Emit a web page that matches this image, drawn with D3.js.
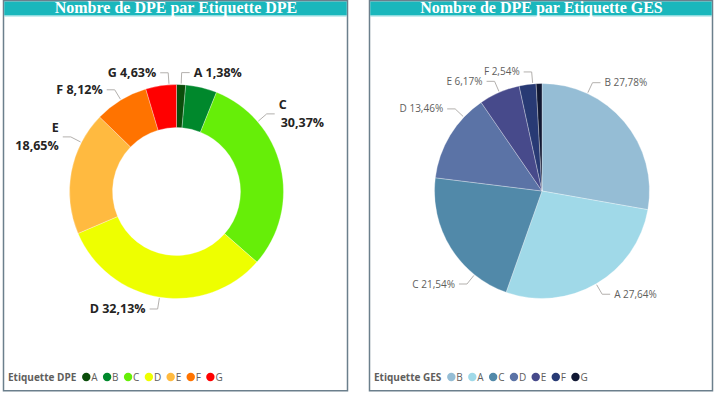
<!DOCTYPE html>
<html lang="fr">
<head>
<meta charset="utf-8">
<title>Nombre de DPE par Etiquette</title>
<script src="https://cdn.jsdelivr.net/npm/d3@7"></script>
<style>
    body { margin: 0; background: #fff; }
    svg { display: block; }
    .title { font-family: "Liberation Serif", "DejaVu Serif", serif; font-weight: bold; fill: #fff; }
    .lbl { font-family: "Open Sans", "Noto Sans", sans-serif; }
    .legend text { font-family: "Open Sans", "Noto Sans", sans-serif; font-size: 10px; fill: #605e5c; }
    .leader { fill: none; stroke: #b3b0ad; stroke-width: 1; }
</style>
</head>
<body>
<div id="chart"></div>
<script>

// DPE donut
const dpeCategories = ["A", "B", "C", "D", "E", "F", "G"];
const dpeValues = [1.38, 4.72, 30.37, 32.13, 18.65, 8.12, 4.63];
const dpeColours = ["#0b4d0b", "#00882c", "#66ee08", "#eeff00", "#ffba40", "#ff7300", "#ff0000"];

// GES pie
const gesCategories = ["B", "A", "C", "D", "E", "F", "G"];
const gesValues = [27.78, 27.64, 21.54, 13.46, 6.17, 2.54, 0.87];
const gesColours = ["#95bdd5", "#a0d9e8", "#5189a9", "#5b73a6", "#474a8b", "#283a74", "#111833"];

const WIDTH = 715, HEIGHT = 394;

const svg = d3.select("#chart").append("svg")
    .attr("width", WIDTH)
    .attr("height", HEIGHT);

const fmt = v => d3.format(".2f")(v).replace(".", ",") + "%";

function drawPanel(opt) {
    let g = svg.append("g");

    // frame + title bar
    g.append("rect")
        .attr("x", opt.x0 + 0.5).attr("y", 0.75)
        .attr("width", opt.x1 - opt.x0).attr("height", 390)
        .attr("fill", "#fff").attr("stroke", "#6b7f8c").attr("stroke-width", 1.5);
    g.append("rect")
        .attr("x", opt.x0 + 1.25).attr("y", 1.5)
        .attr("width", opt.x1 - opt.x0 - 1.5).attr("height", 14)
        .attr("fill", "#1ab7bc");
    g.append("rect")
        .attr("x", opt.x0 + 1.25).attr("y", 15.5)
        .attr("width", opt.x1 - opt.x0 - 1.5).attr("height", 1)
        .attr("fill", "#8fdcdf");
    g.append("text")
        .attr("class", "title")
        .attr("x", (opt.x0 + opt.x1) / 2 + 1).attr("y", 13)
        .attr("text-anchor", "middle")
        .style("font-size", "16px")
        .text(opt.title);

    let data = opt.categories.map((c, i) => ({cat: c, value: opt.values[i], colour: opt.colours[i]}));

    let pie = d3.pie().sort(null).value(d => d.value);
    let arcs = pie(data);
    let arc = d3.arc().innerRadius(opt.inner).outerRadius(opt.r);

    let plot = g.append("g").attr("transform", "translate(" + opt.cx + "," + opt.cy + ")");

    plot.selectAll("path.slice")
        .data(arcs)
        .enter().append("path")
        .attr("class", "slice")
        .attr("d", arc)
        .attr("fill", d => d.data.colour)
        .attr("stroke", "#fff")
        .attr("stroke-width", 0.5)
        .attr("stroke-opacity", 0.6);

    // labels with leader lines
    arcs.forEach(d => {
        let lay = opt.labelLayout[d.data.cat];
        if (!lay) return;
        let a = d.startAngle + (d.endAngle - d.startAngle) * lay.f;
        let p1 = [Math.sin(a) * (opt.r + 1), -Math.cos(a) * (opt.r + 1)];
        let p2 = [Math.sin(a) * (opt.r + 12), -Math.cos(a) * (opt.r + 12)];
        let right = a < Math.PI;
        let p3 = [p2[0] + (right ? 8 : -8), p2[1]];

        plot.append("polyline")
            .attr("class", "leader")
            .attr("points", [p1, p2, p3].map(p => p.join(",")).join(" "));

        let t = plot.append("text")
            .attr("class", "lbl")
            .attr("x", p3[0] + (right ? 4 : -4))
            .attr("y", p2[1])
            .attr("text-anchor", right ? "start" : "end")
            .style("font-size", opt.labelSize)
            .style("font-weight", opt.labelWeight)
            .style("fill", opt.labelColour);

        if (lay.wrap) {
            t.append("tspan").attr("x", t.attr("x")).attr("dy", "-0.38em").text(d.data.cat);
            t.append("tspan").attr("x", +t.attr("x") + (right ? 2 : 0)).attr("dy", "1.4em").text(fmt(d.data.value));
        } else {
            t.attr("dy", "0.35em").text(d.data.cat + " " + fmt(d.data.value));
        }
    });

    // legend
    let legend = g.append("g").attr("class", "legend")
        .attr("transform", "translate(" + (opt.x0 + 5) + ",377)");
    let lt = legend.append("text")
        .attr("x", 0).attr("dy", "0.35em")
        .style("font-weight", "bold")
        .text(opt.legendTitle);
    let lx = lt.node().getComputedTextLength() + 10;
    data.forEach(d => {
        legend.append("circle")
            .attr("cx", lx).attr("cy", 0).attr("r", 4.2)
            .attr("fill", d.colour);
        let tt = legend.append("text")
            .attr("x", lx + 5).attr("dy", "0.35em")
            .text(d.cat);
        lx += 5 + tt.node().getComputedTextLength() + 9.5;
    });
}

drawPanel({
    x0: 3, x1: 347,
    title: "Nombre de DPE par Etiquette DPE",
    categories: dpeCategories, values: dpeValues, colours: dpeColours,
    cx: 176.5, cy: 191.5, r: 107, inner: 64,
    labelSize: "12.5px", labelWeight: "bold", labelColour: "#252423",
    labelLayout: {
        A: {f: 0.5}, C: {f: 0.25, wrap: true}, D: {f: 0.5},
        E: {f: 0.75, wrap: true}, F: {f: 0.5}, G: {f: 0.76}
    },
    legendTitle: "Etiquette DPE"
});

drawPanel({
    x0: 369, x1: 712,
    title: "Nombre de DPE par Etiquette GES",
    categories: gesCategories, values: gesValues, colours: gesColours,
    cx: 542, cy: 191, r: 107.5, inner: 0,
    labelSize: "10px", labelWeight: "normal", labelColour: "#605e5c",
    labelLayout: {
        B: {f: 0.25}, A: {f: 0.5}, C: {f: 0.25},
        D: {f: 0.75}, E: {f: 0.5}, F: {f: 0.8}
    },
    legendTitle: "Etiquette GES"
});

</script>
</body>
</html>
